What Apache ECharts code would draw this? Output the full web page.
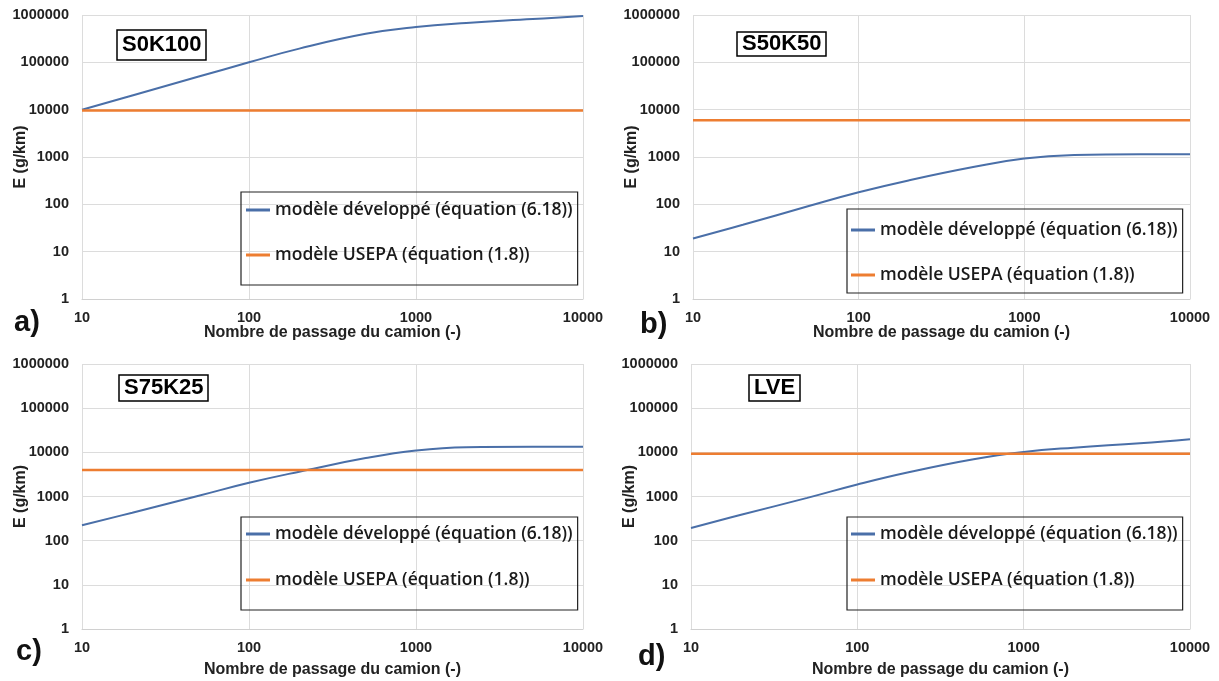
<!DOCTYPE html>
<html>
<head>
<meta charset="utf-8">
<script src="https://cdn.jsdelivr.net/npm/echarts@6/dist/echarts.min.js"></script>
<style>
  html, body { margin: 0; padding: 0; background: #fff; }
  #chart { width: 1219px; height: 681px; }
</style>
</head>
<body>
<div id="chart"></div>
<script>
// nombre de passages (axe x, log)
const passages = [10, 20, 50, 100, 200, 500, 1000, 2000, 5000, 10000];

// modèle développé (équation 6.18)
const devA = [10000, 20000, 50000, 100000, 195000, 400000, 558000, 680000, 820000, 950000];
const devB = [19, 37, 92, 180, 320, 620, 930, 1100, 1140, 1140];
const devC = [223, 430, 1040, 2045, 3650, 7400, 11000, 13100, 13400, 13400];
const devD = [194, 385, 930, 1875, 3500, 7000, 10180, 12760, 16000, 19700];

// modèle USEPA (équation 1.8), constant
const usepaA = 9600;
const usepaB = 6000;
const usepaC = 4000;
const usepaD = 9300;

const panelNames = ["S0K100", "S50K50", "S75K25", "LVE"];
const panelLetters = ["a)", "b)", "c)", "d)"];

const nameDev = "modèle développé (équation (6.18))";
const nameUsepa = "modèle USEPA (équation (1.8))";
const BLUE = "#4a6fa8";
const ORANGE = "#ed7d31";

let devs = [devA, devB, devC, devD];
let usepas = [usepaA, usepaB, usepaC, usepaD];

// placement des 4 panneaux
let grids = [
  { left: 82, top: 15, width: 501, height: 284, outerBoundsMode: "none" },
  { left: 693, top: 15, width: 497, height: 284, outerBoundsMode: "none" },
  { left: 82, top: 364, width: 501, height: 265, outerBoundsMode: "none" },
  { left: 691, top: 364, width: 499, height: 265, outerBoundsMode: "none" }
];
let legendPos = [
  { left: 241, top: 192, padding: [7, 5, 19, 5], gap: 23 },
  { left: 847, top: 209, padding: [10, 5, 7, 4], gap: 23 },
  { left: 241, top: 517, padding: [6, 5, 19, 5], gap: 24 },
  { left: 847, top: 517, padding: [6, 5, 19, 4], gap: 24 }
];
let boxPos = [
  { left: 117, top: 30, padding: [3, 5, 3, 5] },
  { left: 737, top: 32, padding: [0, 5, 0, 5] },
  { left: 119, top: 375, padding: [1, 5, 1, 5] },
  { left: 749, top: 375, padding: [1, 5, 1, 5] }
];
let letterPos = [
  { left: 14, top: 308 },
  { left: 640, top: 310 },
  { left: 16, top: 637 },
  { left: 638, top: 642 }
];

let chart = echarts.init(document.getElementById("chart"));

let tickLabel = {
  fontFamily: "Liberation Sans",
  fontWeight: "bold",
  fontSize: 14.5,
  color: "#222",
  formatter: function (v) { return String(Math.round(v)); }
};

let xAxis = [], yAxis = [], series = [], legend = [], title = [];

grids.forEach((g, i) => {
  let bottomRow = i >= 2;
  xAxis.push({
    gridIndex: i,
    type: "log",
    logBase: 10,
    min: 10,
    max: 10000,
    name: "Nombre de passage du camion (-)",
    nameLocation: "middle",
    nameGap: bottomRow ? 33 : 26,
    nameMoveOverlap: false,
    nameTextStyle: { fontFamily: "Liberation Sans", fontWeight: "bold", fontSize: 16, color: "#222" },
    axisLine: { lineStyle: { color: "#d0d0d0" } },
    axisTick: { show: false },
    axisLabel: Object.assign({ margin: 11 }, tickLabel),
    splitLine: { show: true, lineStyle: { color: "#dcdcdc" } },
    minorTick: { show: false }
  });
  yAxis.push({
    gridIndex: i,
    type: "log",
    logBase: 10,
    min: 1,
    max: 1000000,
    splitNumber: 6,
    name: "E (g/km)",
    nameLocation: "middle",
    nameGap: 53,
    nameMoveOverlap: false,
    nameTextStyle: { fontFamily: "Liberation Sans", fontWeight: "bold", fontSize: 16, color: "#222" },
    axisLine: { show: false },
    axisTick: { show: false },
    axisLabel: Object.assign({ margin: 13 }, tickLabel),
    splitLine: { show: true, lineStyle: { color: "#dcdcdc" } }
  });
  series.push({
    name: nameDev,
    type: "line",
    xAxisIndex: i,
    yAxisIndex: i,
    data: passages.map((x, k) => [x, devs[i][k]]),
    smooth: 0.45,
    showSymbol: false,
    lineStyle: { color: BLUE, width: 2 },
    itemStyle: { color: BLUE }
  });
  series.push({
    name: nameUsepa,
    type: "line",
    xAxisIndex: i,
    yAxisIndex: i,
    data: [[10, usepas[i]], [10000, usepas[i]]],
    showSymbol: false,
    lineStyle: { color: ORANGE, width: 2.5 },
    itemStyle: { color: ORANGE }
  });
  legend.push({
    data: [nameDev, nameUsepa],
    orient: "vertical",
    left: legendPos[i].left,
    top: legendPos[i].top,
    padding: legendPos[i].padding,
    borderColor: "#222",
    borderWidth: 1.2,
    icon: "rect",
    itemWidth: 24,
    itemHeight: 3,
    itemGap: legendPos[i].gap,
    selectedMode: false,
    textStyle: { fontFamily: "Open Sans", fontWeight: 600, fontSize: 17.5, color: "#1a1a1a", lineHeight: 22 }
  });
  title.push({
    text: panelNames[i],
    left: boxPos[i].left,
    top: boxPos[i].top,
    padding: boxPos[i].padding,
    borderColor: "#000",
    borderWidth: 1.5,
    textStyle: { fontFamily: "Liberation Sans", fontWeight: "bold", fontSize: 22, color: "#000", lineHeight: 24 }
  });
  title.push({
    text: panelLetters[i],
    left: letterPos[i].left,
    top: letterPos[i].top,
    padding: 0,
    textStyle: { fontFamily: "Liberation Sans", fontWeight: "bold", fontSize: 29, color: "#111" }
  });
});

let option = {
  animation: false,
  backgroundColor: "#fff",
  title: title,
  legend: legend,
  grid: grids,
  xAxis: xAxis,
  yAxis: yAxis,
  series: series
};
chart.setOption(option);
</script>
</body>
</html>
